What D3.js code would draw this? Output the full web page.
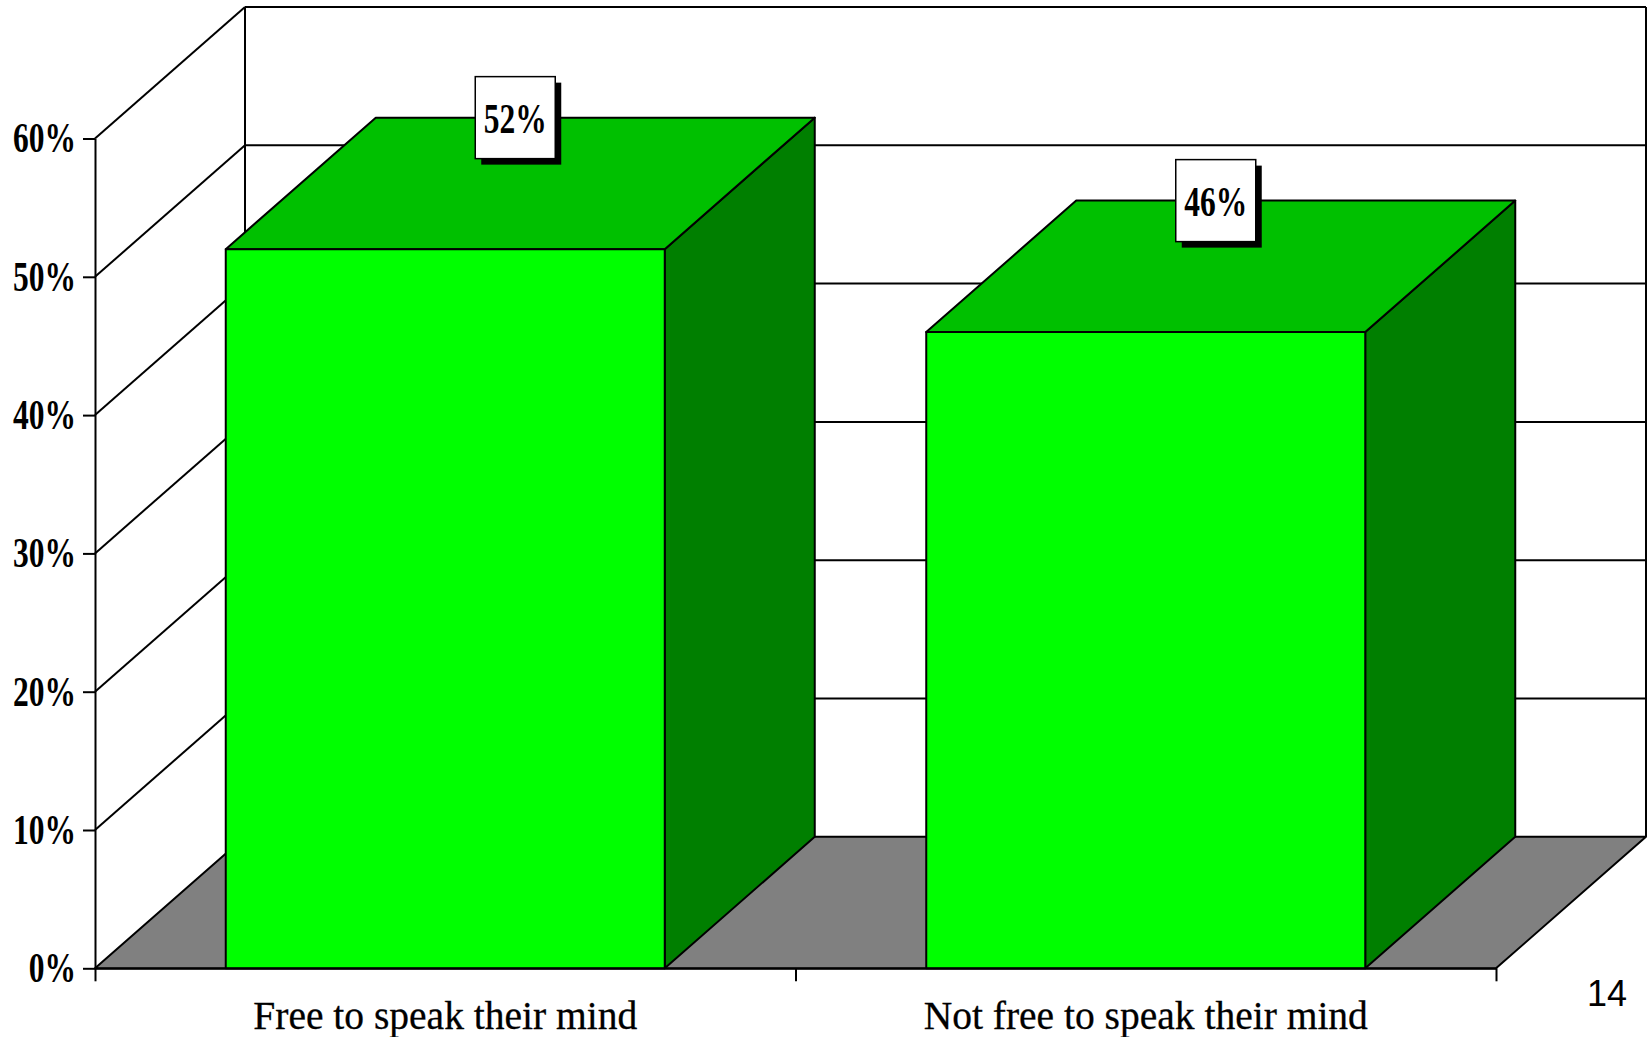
<!DOCTYPE html>
<html>
<head>
<meta charset="utf-8">
<script src="https://cdn.jsdelivr.net/npm/d3@7"></script>
<style>
  html, body { margin: 0; padding: 0; background: #ffffff; }
  svg { display: block; }
</style>
</head>
<body>
<div id="chart"></div>
<script>
// Survey answers shown as two 3-D columns
const categories = ["Free to speak their mind", "Not free to speak their mind"];
const values = [52, 46];
const yTicks = [0, 10, 20, 30, 40, 50, 60];
const yTickLabels = ["0%", "10%", "20%", "30%", "40%", "50%", "60%"];
const pageNumber = "14";

const W = 1649, H = 1037;
const plot = { left: 95, right: 1496, top: 138.5, bottom: 968.3 };
const depth = { dx: 150, dy: -131.5 };   // oblique offset of the back wall

const colors = {
  front: "#00ff00",
  top: "#00c000",
  side: "#007f00",
  floor: "#808080",
  line: "#000000"
};

const numFont = "'Liberation Serif', 'Times New Roman', serif";

const svg = d3.select("#chart").append("svg")
  .attr("width", W).attr("height", H);

const y = d3.scaleLinear().domain([0, 60]).range([plot.bottom, plot.top]);
const x = d3.scaleBand().domain(categories)
  .range([plot.left, plot.right])
  .paddingInner(0.3733).paddingOuter(0.3733 / 2);
const slot = d3.scaleBand().domain(categories).range([plot.left, plot.right]).padding(0);
const edge = d3.scaleLinear().domain([0, categories.length]).range([plot.left, plot.right]);

const back = (px, py) => [px + depth.dx, py + depth.dy];
const poly = pts => "M" + pts.map(p => p.join(",")).join("L") + "Z";

// ---- walls ----
const walls = svg.append("g").attr("fill", "none").attr("stroke", colors.line).attr("stroke-width", 2);

// back-wall gridlines
walls.selectAll("line.grid").data(yTicks.filter(t => t > 0)).join("line")
  .attr("class", "grid")
  .attr("x1", plot.left + depth.dx).attr("x2", plot.right + depth.dx)
  .attr("y1", d => y(d) + depth.dy).attr("y2", d => y(d) + depth.dy);

// side-wall diagonals
walls.selectAll("line.diag").data(yTicks.filter(t => t > 0)).join("line")
  .attr("class", "diag")
  .attr("x1", plot.left).attr("y1", d => y(d))
  .attr("x2", plot.left + depth.dx).attr("y2", d => y(d) + depth.dy);

// back corner verticals
[plot.left + depth.dx, plot.right + depth.dx].forEach(px => {
  walls.append("line")
    .attr("x1", px).attr("x2", px)
    .attr("y1", y(60) + depth.dy).attr("y2", y(0) + depth.dy);
});

// floor
svg.append("path")
  .attr("d", poly([[plot.left, y(0)], [plot.right, y(0)], back(plot.right, y(0)), back(plot.left, y(0))]))
  .attr("fill", colors.floor).attr("stroke", colors.line).attr("stroke-width", 2)
  .attr("stroke-linejoin", "round");

// ---- bars ----
const data = categories.map((c, i) => ({ cat: c, value: values[i] }));
const bars = svg.append("g").selectAll("g.bar").data(data).join("g").attr("class", "bar")
  .attr("stroke", colors.line).attr("stroke-width", 2).attr("stroke-linejoin", "round");

bars.append("path") // right side
  .attr("fill", colors.side)
  .attr("d", d => {
    const x1 = x(d.cat) + x.bandwidth(), yt = y(d.value), yb = y(0);
    return poly([[x1, yt], back(x1, yt), back(x1, yb), [x1, yb]]);
  });
bars.append("path") // top
  .attr("fill", colors.top)
  .attr("d", d => {
    const x0 = x(d.cat), x1 = x0 + x.bandwidth(), yt = y(d.value);
    return poly([[x0, yt], [x1, yt], back(x1, yt), back(x0, yt)]);
  });
bars.append("rect") // front
  .attr("fill", colors.front)
  .attr("x", d => x(d.cat)).attr("width", x.bandwidth())
  .attr("y", d => y(d.value)).attr("height", d => y(0) - y(d.value));

// ---- value labels ----
const boxW = 80, boxH = 82, shadow = 6;
const labels = svg.append("g").selectAll("g.lbl").data(data).join("g").attr("class", "lbl")
  .attr("transform", d => {
    const cx = x(d.cat) + x.bandwidth() / 2 + depth.dx / 2 - 5;
    const cy = y(d.value) + depth.dy;
    return `translate(${cx},${cy})`;
  });
labels.append("rect")
  .attr("x", -boxW / 2 + shadow).attr("y", -boxH / 2 + shadow)
  .attr("width", boxW).attr("height", boxH).attr("fill", "#000");
labels.append("rect")
  .attr("x", -boxW / 2).attr("y", -boxH / 2)
  .attr("width", boxW).attr("height", boxH)
  .attr("fill", "#fff").attr("stroke", "#000").attr("stroke-width", 1.5);
labels.append("text")
  .attr("transform", "scale(0.75,1)")
  .attr("text-anchor", "middle").attr("dy", "0.36em")
  .attr("font-family", numFont)
  .attr("font-weight", "bold").attr("font-size", 42)
  .text(d => d.value + "%");

// ---- axes ----
const yAxis = svg.append("g")
  .attr("transform", `translate(${plot.left},0)`)
  .call(d3.axisLeft(y).tickValues(yTicks).tickSize(12).tickSizeOuter(0)
    .tickFormat((d, i) => yTickLabels[i]));
yAxis.selectAll("path, line").attr("stroke", colors.line).attr("stroke-width", 2);
yAxis.selectAll("text")
  .attr("x", null).attr("dy", "0.32em")
  .attr("transform", "translate(-19,0) scale(0.75,1)")
  .attr("text-anchor", "end")
  .attr("fill", "#000")
  .attr("font-family", numFont)
  .attr("font-weight", "bold").attr("font-size", 42);

const xAxis = svg.append("g")
  .attr("transform", `translate(0,${y(0)})`)
  .call(d3.axisBottom(edge).tickValues(d3.range(categories.length + 1))
    .tickSize(13).tickSizeOuter(0).tickFormat(""));
xAxis.selectAll("path, line").attr("stroke", colors.line).attr("stroke-width", 2);

// category names
svg.append("g").selectAll("text").data(categories).join("text")
  .attr("x", d => slot(d) + slot.bandwidth() / 2)
  .attr("y", 1029)
  .attr("text-anchor", "middle")
  .attr("font-family", "'Liberation Serif', 'Times New Roman', serif")
  .attr("font-size", 39.5)
  .attr("stroke", "#000").attr("stroke-width", 0.3)
  .attr("fill", "#000")
  .text(d => d);

// page number
svg.append("text")
  .attr("x", 1587).attr("y", 1006)
  .attr("font-family", "'Liberation Sans', Arial, sans-serif")
  .attr("font-size", 36)
  .attr("fill", "#000")
  .text(pageNumber);
</script>
</body>
</html>
